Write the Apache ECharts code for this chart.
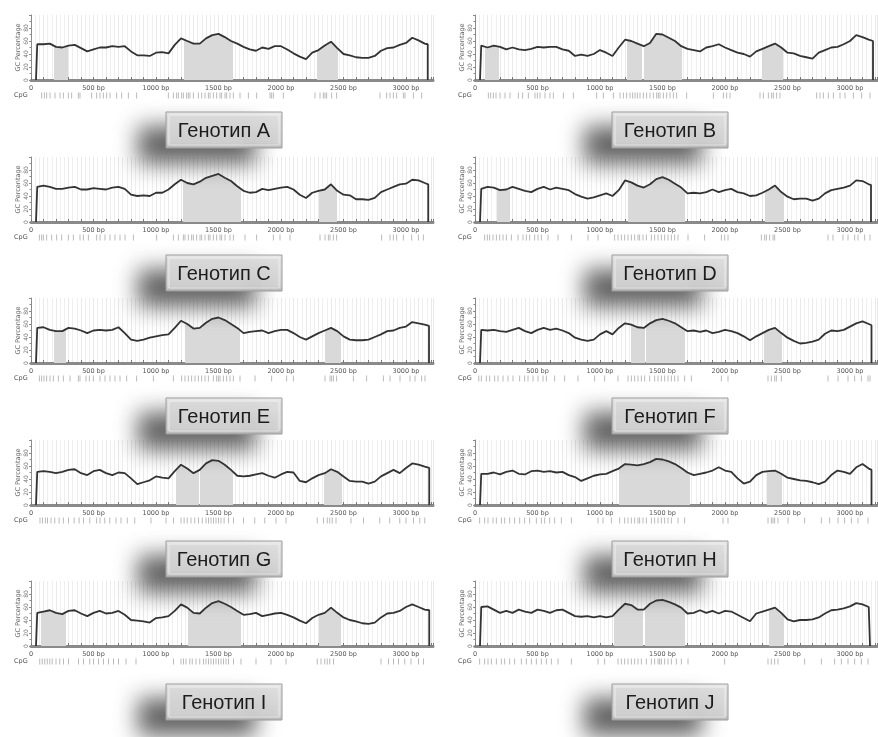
<!DOCTYPE html>
<html><head><meta charset="utf-8">
<script src="https://cdn.jsdelivr.net/npm/echarts@6/dist/echarts.min.js"></script>
<style>html,body{margin:0;padding:0;background:#fff}#c{width:878px;height:737px}</style>
</head><body><div id="c"></div>
<script>
// ---------------- DATA ----------------
const GENOTYPES = ['A','B','C','D','E','F','G','H','I','J'];
const LABELS = ['Генотип A','Генотип B','Генотип C','Генотип D','Генотип E','Генотип F','Генотип G','Генотип H','Генотип I','Генотип J'];
const X_TICK_LABELS = ['0','500 bp','1000 bp','1500 bp','2000 bp','2500 bp','3000 bp'];
const POS = [50,100,150,200,250,300,350,400,450,500,550,600,650,700,750,800,850,900,950,1000,1050,1100,1150,1200,1250,1300,1350,1400,1450,1500,1550,1600,1650,1700,1750,1800,1850,1900,1950,2000,2050,2100,2150,2200,2250,2300,2350,2400,2450,2500,2550,2600,2650,2700,2750,2800,2850,2900,2950,3000,3050,3100,3150];
const START_BP = 40;
const END_BP = [3174,3184,3178,3168,3184,3172,3186,3172,3186,3160];
const END_GC = [55,60,58,57,57,58,57,54,55,58];

const GC_A = [55,55,56,51,50,53,54,49,44,47,50,50,52,51,52,44,38,38,37,42,43,41,54,64,60,56,56,64,69,71,66,60,56,51,47,45,50,48,52,52,47,41,36,32,42,46,53,59,49,40,38,35,34,34,37,45,49,50,54,57,65,61,56];
const GC_B = [53,50,53,51,47,50,47,46,48,51,50,51,51,47,45,37,39,37,40,46,42,37,50,62,60,56,52,57,71,70,65,60,52,48,46,44,50,52,55,50,46,42,40,36,44,48,52,56,50,42,41,37,35,33,42,46,50,51,55,60,69,66,62];
const GC_C = [54,56,54,51,51,53,54,50,50,52,51,50,53,54,51,42,40,41,40,45,45,50,58,65,60,58,62,68,71,74,68,63,55,48,45,46,51,49,51,53,54,50,42,37,45,48,50,58,48,42,41,35,35,34,37,46,50,54,58,59,65,64,60];
const GC_D = [51,54,53,49,50,54,51,48,46,51,54,50,53,51,49,43,39,36,38,41,44,40,49,64,61,56,53,58,66,69,65,59,53,44,45,44,46,50,46,49,51,46,44,40,41,45,50,56,46,39,35,36,36,33,36,44,49,51,53,56,64,63,58];
const GC_E = [54,55,51,49,49,54,53,50,46,50,51,50,51,55,46,36,34,36,39,41,43,44,54,65,60,53,54,62,68,70,66,60,54,46,48,49,50,46,49,51,51,46,40,36,41,46,50,54,49,41,36,35,35,36,40,44,49,50,54,56,63,61,59];
const GC_F = [51,50,51,49,48,51,54,49,46,51,54,51,53,50,46,39,36,34,36,44,49,44,54,61,59,55,54,61,66,68,65,61,55,49,50,48,50,46,48,51,49,46,41,35,41,46,51,54,46,39,34,30,31,33,36,45,50,49,51,56,61,64,60];
const GC_G = [51,52,51,49,51,54,55,49,46,52,54,49,46,50,49,41,32,35,38,44,42,41,52,62,56,49,54,64,69,68,62,54,45,44,45,47,49,45,42,47,51,50,37,35,41,46,49,55,51,44,37,36,36,33,36,44,49,54,49,57,64,62,59];
const GC_H = [48,48,50,47,51,53,48,47,52,53,51,52,50,51,46,43,37,41,45,47,48,52,56,63,62,61,63,66,71,70,67,63,57,50,46,48,50,53,58,53,51,41,33,36,46,51,52,53,48,42,40,38,37,35,32,36,46,53,51,48,58,63,56];
const GC_I = [51,53,55,51,49,54,55,50,46,51,54,50,51,54,48,40,39,38,36,43,44,46,54,64,59,51,50,59,66,69,65,60,54,48,49,51,46,48,50,51,48,44,39,35,43,48,51,59,51,44,40,38,35,34,36,44,50,51,54,60,64,60,56];
const GC_J = [60,61,56,51,54,51,56,53,51,56,54,51,55,56,51,46,45,46,44,46,44,46,56,65,63,56,56,65,70,71,68,64,59,50,51,55,51,54,50,54,53,48,43,38,50,53,56,59,51,41,38,40,40,41,44,50,55,56,58,61,66,64,60];

const ISLANDS_A = [[184,293],[1224,1619],[2285,2459]];
const ISLANDS_B = [[80,195],[1213,1336],[1352,1659],[2293,2462]];
const ISLANDS_C = [[1219,1677],[2307,2451]];
const ISLANDS_D = [[178,280],[1222,1683],[2317,2468]];
const ISLANDS_E = [[180,280],[1232,1675],[2348,2480]];
const ISLANDS_F = [[1247,1357],[1367,1683],[2312,2456]];
const ISLANDS_G = [[1160,1344],[1352,1619],[2344,2485]];
const ISLANDS_H = [[1155,1722],[2334,2456]];
const ISLANDS_I = [[80,280],[1258,1678],[2305,2484]];
const ISLANDS_J = [[1112,1344],[1364,1683],[2354,2472]];

const CPG_A = [85,107,125,152,192,232,259,299,325,379,392,485,525,552,579,605,632,685,725,779,845,1099,1139,1165,1179,1205,1219,1245,1259,1272,1299,1339,1365,1392,1419,1432,1459,1485,1512,1525,1552,1565,1592,1619,1672,1739,1805,1912,1925,1939,2019,2272,2312,2339,2352,2365,2405,2445,2792,2845,2872,2899,2925,2979,2992,3059,3125];
const CPG_B = [107,125,147,168,200,240,280,347,381,427,480,499,520,560,600,627,707,787,973,1027,1107,1160,1187,1213,1240,1261,1280,1299,1320,1347,1373,1400,1427,1453,1467,1480,1507,1533,1560,1587,1613,1693,1907,1987,2013,2040,2280,2307,2347,2373,2387,2413,2440,2733,2760,2787,2827,2867,2920,2960,3027,3093,3160];
const CPG_C = [67,85,99,125,165,205,245,299,339,392,419,459,525,552,592,632,672,712,752,819,1005,1139,1179,1219,1232,1259,1285,1299,1325,1352,1365,1392,1419,1432,1459,1485,1512,1525,1552,1592,1619,1712,1805,1939,1992,2072,2312,2352,2379,2392,2419,2445,2805,2872,2899,2925,2979,3045,3099,3139];
const CPG_D = [77,99,117,144,171,197,224,251,291,344,384,411,437,477,504,531,584,664,771,904,984,1117,1144,1171,1197,1224,1251,1277,1304,1317,1344,1371,1411,1437,1464,1491,1517,1544,1571,1597,1624,1704,1837,1971,1997,2024,2291,2317,2331,2357,2384,2397,2824,2864,2944,2984,3037,3064,3117,3160];
const CPG_E = [67,85,104,125,152,179,219,259,312,379,392,440,467,499,552,592,632,672,712,765,845,979,1139,1205,1232,1259,1285,1312,1339,1365,1392,1419,1459,1485,1499,1512,1539,1565,1592,1619,1672,1792,1925,2045,2099,2352,2392,2405,2419,2445,2579,2685,2819,2872,2952,3032,3072,3125,3152];
const CPG_F = [30,51,91,117,157,184,224,264,304,357,397,424,464,504,544,571,637,717,824,957,1037,1144,1224,1251,1277,1304,1331,1357,1397,1437,1464,1491,1517,1544,1571,1597,1624,1677,1731,1971,2024,2344,2371,2397,2411,2451,2824,2904,2984,3037,3091,3144,3160];
const CPG_G = [72,92,115,132,160,190,225,259,300,345,385,420,470,525,552,590,630,680,720,770,830,960,1080,1140,1200,1225,1250,1280,1310,1340,1370,1400,1420,1440,1460,1480,1500,1520,1545,1580,1620,1700,1790,1870,1960,2040,2290,2340,2370,2390,2410,2440,2560,2660,2790,2870,2950,3000,3060,3110,3150];
const CPG_H = [37,77,104,144,171,211,237,277,317,357,397,437,491,531,557,597,637,691,771,984,1024,1091,1157,1197,1224,1251,1277,1304,1317,1344,1371,1411,1437,1464,1491,1517,1544,1571,1624,1677,1984,2024,2344,2371,2384,2397,2424,2504,2637,2771,2837,2904,2957,3011,3064,3144];
const CPG_I = [70,90,110,130,150,170,200,230,260,300,380,420,470,500,540,580,620,660,700,760,840,1140,1200,1220,1240,1270,1290,1320,1350,1380,1400,1420,1440,1460,1480,1500,1520,1540,1560,1580,1620,1680,1800,1920,2040,2290,2320,2350,2370,2390,2420,2800,2860,2900,2940,2990,3040,3100,3140];
const CPG_J = [37,77,104,131,171,211,237,277,317,371,411,451,491,531,571,611,664,771,984,1037,1144,1171,1197,1224,1251,1277,1304,1331,1371,1411,1437,1464,1477,1491,1517,1544,1571,1611,1651,1704,1997,2344,2371,2397,2424,2637,2771,2877,2931,2984,3037,3091,3144];

// ---------------- BUILD ----------------
const GC = [GC_A,GC_B,GC_C,GC_D,GC_E,GC_F,GC_G,GC_H,GC_I,GC_J];
const ISL = [ISLANDS_A,ISLANDS_B,ISLANDS_C,ISLANDS_D,ISLANDS_E,ISLANDS_F,ISLANDS_G,ISLANDS_H,ISLANDS_I,ISLANDS_J];
const CPG = [CPG_A,CPG_B,CPG_C,CPG_D,CPG_E,CPG_F,CPG_G,CPG_H,CPG_I,CPG_J];

const XMAX = 3216;
const COL_X = [31, 475];
const PLOT_W = 402;
const PLOT_H = 65;
const BTN_X = [166, 612];
const BTN_W = 116, BTN_H = 36;
const baseY = r => Math.round(80 + r * 141.5);
const btnY = r => 112 + r * 143;
const FONT_SMALL = '"DejaVu Sans", Verdana, sans-serif';

const grid = [], xAxis = [], yAxis = [], series = [], visualMap = [], graphic = [];

GENOTYPES.forEach((g, i) => {
  const col = i % 2, row = Math.floor(i / 2);
  const left = COL_X[col], b = baseY(row);
  grid.push({left: left, top: b - PLOT_H, width: PLOT_W, height: PLOT_H, outerBoundsMode: 'none', containLabel: false});
  grid.push({left: left, top: b + 12, width: PLOT_W, height: 7, outerBoundsMode: 'none', containLabel: false});
  const gi = 2 * i;
  xAxis.push({
    gridIndex: gi, type: 'value', min: 0, max: XMAX, interval: 100,
    axisLine: {show: true, onZero: false, lineStyle: {color: '#8a8a8a', width: 3}},
    axisTick: {show: true, inside: true, length: 3, lineStyle: {color: '#777', width: 1}},
    minorTick: {show: false, splitNumber: 3},
    axisLabel: {margin: 5, fontSize: 6.5, color: '#555', fontFamily: FONT_SMALL,
      formatter: v => (v % 500 === 0 && v / 500 < X_TICK_LABELS.length) ? X_TICK_LABELS[v / 500] : ''},
    splitLine: {show: true, lineStyle: {color: '#e9e9e9', width: 1}},
    minorSplitLine: {show: true, lineStyle: {color: '#eeeeee', width: 1}}
  });
  yAxis.push({
    gridIndex: gi, type: 'value', min: 0, max: 100, interval: 20,
    axisLine: {show: true, lineStyle: {color: '#8a8a8a', width: 1}},
    axisTick: {show: true, length: 2, lineStyle: {color: '#8a8a8a'}},
    minorTick: {show: true, splitNumber: 2, length: 1.5, lineStyle: {color: '#8a8a8a'}},
    axisLabel: {rotate: 90, fontSize: 6, color: '#777', margin: 2, fontFamily: FONT_SMALL, showMaxLabel: false},
    splitLine: {show: false},
    name: 'GC Percentage', nameLocation: 'middle', nameRotate: 90, nameGap: 9,
    nameTextStyle: {fontSize: 6.5, color: '#666', fontFamily: FONT_SMALL}
  });
  xAxis.push({gridIndex: gi + 1, type: 'value', min: 0, max: XMAX, show: false});
  yAxis.push({gridIndex: gi + 1, type: 'value', min: 0, max: 1, show: false});

  const data = [[START_BP, 0]].concat(POS.map((p, k) => [p, GC[i][k]]), [[END_BP[i], END_GC[i]], [END_BP[i], 0]]);
  const areaIdx = series.length;
  series.push({
    type: 'line', xAxisIndex: gi, yAxisIndex: gi, data: data, showSymbol: false, silent: true,
    lineStyle: {width: 0, opacity: 0}, areaStyle: {opacity: 1}, z: 1
  });
  series.push({
    type: 'line', xAxisIndex: gi, yAxisIndex: gi, data: data, showSymbol: false, silent: true,
    lineStyle: {color: '#333', width: 1.8}, itemStyle: {color: '#333'}, z: 3
  });
  series.push({
    type: 'scatter', xAxisIndex: gi + 1, yAxisIndex: gi + 1, silent: true,
    data: CPG[i].map(p => [p, 0.5]), symbol: 'rect', symbolSize: [1, 6],
    itemStyle: {color: '#a9a9a9'}
  });
  visualMap.push({
    type: 'piecewise', show: false, dimension: 0, seriesIndex: areaIdx,
    pieces: ISL[i].map(([s, e]) => ({gte: s, lte: e, color: '#d9d9d9'})),
    outOfRange: {color: 'rgba(255,255,255,0)'}
  });

  graphic.push({
    type: 'text', x: left - 17, y: b + 15.5, silent: true,
    style: {text: 'CpG', font: '6.5px ' + FONT_SMALL, fill: '#555', verticalAlign: 'middle', align: 'left'}
  });
  const bx = BTN_X[col], by = btnY(row);
  graphic.push({
    type: 'group', silent: true,
    children: [
      {type: 'rect', z: 100, shape: {x: bx, y: by, width: BTN_W, height: BTN_H},
       style: {fill: {type: 'linear', x: 0, y: 0, x2: 0, y2: 1, colorStops: [
           {offset: 0, color: '#efefef'}, {offset: 0.12, color: '#dedede'},
           {offset: 0.85, color: '#d2d2d2'}, {offset: 1, color: '#b4b4b4'}]},
         stroke: '#9c9c9c', lineWidth: 1,
         shadowBlur: 22, shadowColor: 'rgba(70,70,70,0.85)', shadowOffsetX: -27, shadowOffsetY: 15}},
      {type: 'rect', z: 101, shape: {x: bx + 3, y: by + 3, width: BTN_W - 6, height: BTN_H - 6},
       style: {fill: 'none', stroke: 'rgba(255,255,255,0.55)', lineWidth: 1}},
      {type: 'text', z: 102, x: bx + BTN_W / 2, y: by + BTN_H / 2 + 1,
       style: {text: LABELS[i], font: '20px "Liberation Sans", Arial, sans-serif', fill: '#1c1c1c',
               align: 'center', verticalAlign: 'middle'}}
    ]
  });
});

const chart = echarts.init(document.getElementById('c'), null, {renderer: 'canvas', width: 878, height: 737});
chart.setOption({
  animation: false,
  backgroundColor: '#ffffff',
  grid: grid, xAxis: xAxis, yAxis: yAxis, series: series, visualMap: visualMap, graphic: graphic
});
</script>
</body></html>
